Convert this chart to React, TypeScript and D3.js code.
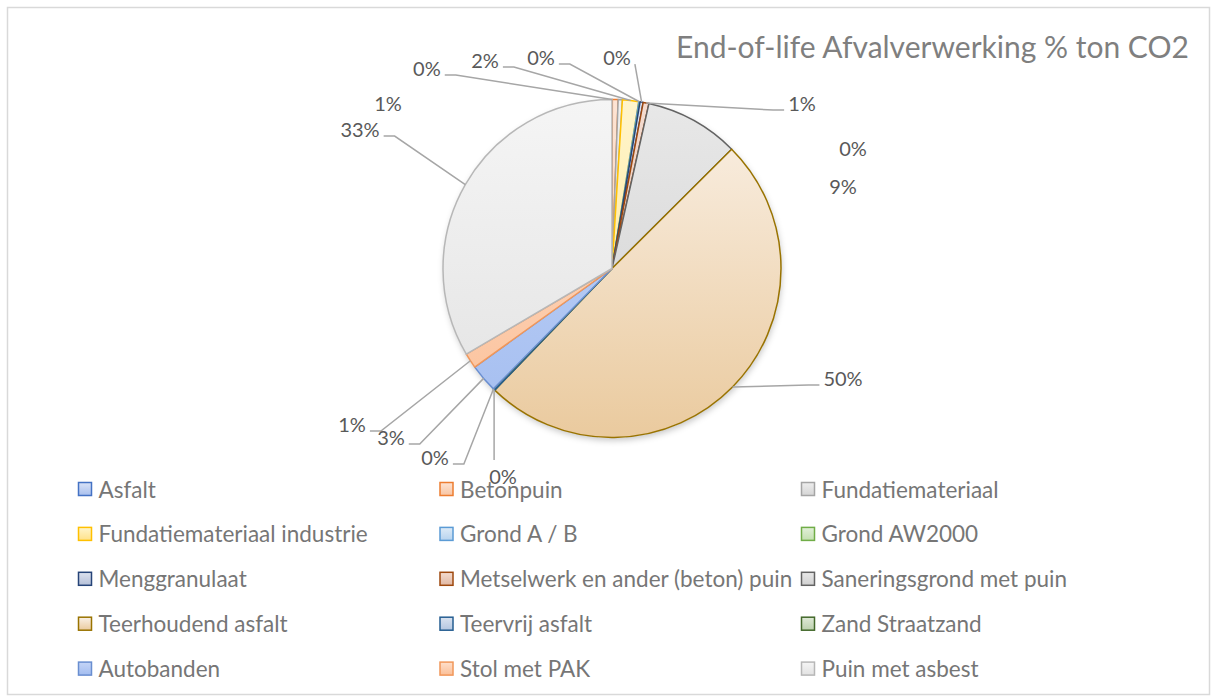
import React, { useEffect, useRef } from "react";
import * as d3 from "d3";

// ---------- data ----------
const title = "End-of-life Afvalverwerking % ton CO2";
const categories = [
  "Asfalt",
  "Betonpuin",
  "Fundatiemateriaal",
  "Fundatiemateriaal industrie",
  "Grond A / B",
  "Grond AW2000",
  "Menggranulaat",
  "Metselwerk en ander (beton) puin",
  "Saneringsgrond met puin",
  "Teerhoudend asfalt",
  "Teervrij asfalt",
  "Zand Straatzand",
  "Autobanden",
  "Stol met PAK",
  "Puin met asbest",
];
// share of ton CO2 (%)
const shares = [0.03, 0.55, 0.4, 1.55, 0.1, 0.02, 0.3, 0.55, 9.0, 49.6, 0.15, 0.02, 2.7, 1.45, 33.4];

// ---------- styles ----------
const strokeColors = [
  "#4472c4", "#ed7d31", "#a5a5a5", "#ffc000", "#5b9bd5", "#70ad47", "#264478", "#9e480e",
  "#636363", "#997300", "#255e91", "#43682b", "#698ed0", "#f1975a", "#b7b7b7",
];
const fillTop = [
  "#dae3f7", "#fde4d4", "#eeeeee", "#fff5cc", "#deebf7", "#e2f0d9", "#dde2ee", "#f4dcd0",
  "#e8e8e8", "#faf1e7", "#dae3f0", "#dfe9d7", "#c5d5f7", "#fee0cc", "#f5f5f5",
];
const fillBottom = [
  "#a9c0ee", "#f8c4a2", "#d5d5d5", "#ffe28a", "#b7d3ee", "#c3e0b0", "#b5c0d8", "#e0b7a2",
  "#d0d0d0", "#eaca9e", "#b4c6e0", "#bdd1ae", "#a3bdf0", "#fbbf97", "#e2e2e2",
];
// data-label layout: [dx, dy] relative to pie centre in radius units, plus leader flag; null = hidden
const labelLayout: ([number, number, boolean] | null)[] = [
  [-1.095, -1.186, true],
  [-1.325, -0.979, false],
  null,
  [-0.751, -1.234, true],
  [-0.42, -1.251, true],
  [1.426, -0.713, false],
  [0.03, -1.251, true],
  [1.124, -0.979, true],
  [1.367, -0.488, false],
  [1.367, 0.648, true],
  [-0.645, 1.228, true],
  [-1.047, 1.115, true],
  [-1.308, 0.997, true],
  [-1.538, 0.92, true],
  [-1.491, -0.825, true],
];

const W = 1212;
const H = 697;
const FONT = "Lato, 'Noto Sans', sans-serif";

export default function App() {
  const ref = useRef<SVGSVGElement | null>(null);

  useEffect(() => {
    const svg = d3.select(ref.current);
    svg.selectAll("*").remove();

    const cx = 612;
    const cy = 268.5;
    const r = 169;

    const defs = svg.append("defs");
    categories.forEach((_, i) => {
      const g = defs
        .append("linearGradient")
        .attr("id", `pg${i}`)
        .attr("gradientUnits", "userSpaceOnUse")
        .attr("x1", 0)
        .attr("x2", 0)
        .attr("y1", -r)
        .attr("y2", r);
      g.append("stop").attr("offset", "0%").attr("stop-color", fillTop[i]);
      g.append("stop").attr("offset", "100%").attr("stop-color", fillBottom[i]);
      const lg = defs
        .append("linearGradient")
        .attr("id", `lg${i}`)
        .attr("x1", 0)
        .attr("x2", 0)
        .attr("y1", 0)
        .attr("y2", 1);
      lg.append("stop").attr("offset", "0%").attr("stop-color", fillTop[i]);
      lg.append("stop").attr("offset", "100%").attr("stop-color", fillBottom[i]);
    });
    const f = defs
      .append("filter")
      .attr("id", "shadow")
      .attr("x", "-20%")
      .attr("y", "-20%")
      .attr("width", "140%")
      .attr("height", "140%");
    f.append("feDropShadow")
      .attr("dx", 1)
      .attr("dy", 3)
      .attr("stdDeviation", 3)
      .attr("flood-color", "#000")
      .attr("flood-opacity", 0.22);

    // background + border
    svg
      .append("rect")
      .attr("x", 7.5)
      .attr("y", 7.5)
      .attr("width", W - 10)
      .attr("height", H - 10)
      .attr("fill", "#fff")
      .attr("stroke", "#d9d9d9")
      .attr("stroke-width", 1.5);

    // title
    svg
      .append("text")
      .attr("x", 676)
      .attr("y", 58)
      .attr("font-family", FONT)
      .attr("font-size", 30)
      .attr("fill", "#7f7f7f")
      .text(title);

    const total = d3.sum(shares);
    const pie = d3
      .pie<number>()
      .sort(null)
      .value((d) => d)
      .startAngle(0)
      .endAngle(2 * Math.PI);
    const arcs = pie(shares);
    const arc = d3.arc<d3.PieArcDatum<number>>().innerRadius(0).outerRadius(r);

    const pg = svg.append("g").attr("transform", `translate(${cx},${cy})`);
    pg.append("circle").attr("r", r).attr("fill", "#fff").attr("filter", "url(#shadow)");
    pg.selectAll("path.slice")
      .data(arcs)
      .join("path")
      .attr("class", "slice")
      .attr("d", (d) => arc(d) as string)
      .attr("fill", (_, i) => `url(#pg${i})`)
      .attr("stroke", (_, i) => strokeColors[i])
      .attr("stroke-width", 1.5)
      .attr("stroke-linejoin", "round");

    // data labels
    const lblSize = 20;
    const leaders = svg.append("g");
    const lg = svg.append("g");
    arcs.forEach((a, i) => {
      const lay = labelLayout[i];
      if (!lay) return;
      const lx = cx + lay[0] * r;
      const ly = cy + lay[1] * r;
      const txt = `${Math.round((a.value / total) * 100)}%`;
      const t = lg
        .append("text")
        .attr("x", lx)
        .attr("y", ly)
        .attr("text-anchor", "middle")
        .attr("dominant-baseline", "central")
        .attr("font-family", FONT)
        .attr("font-size", lblSize)
        .attr("fill", "#595959")
        .text(txt);
      if (!lay[2]) return;
      const w = (t.node() as SVGTextElement).getComputedTextLength();
      const mid = (a.startAngle + a.endAngle) / 2;
      const px = cx + r * Math.sin(mid);
      const py = cy - r * Math.cos(mid);
      let pts: [number, number][];
      if (px >= lx - w / 2 && px <= lx + w / 2 && ly > py) {
        pts = [
          [px, py],
          [px, ly - lblSize * 0.8],
        ];
      } else {
        const side = px > lx ? 1 : -1;
        const ax = lx + side * (w / 2 + 4);
        const ay = ly + 7;
        if (Math.abs(px - ax) < 25) {
          pts = [
            [px, py],
            [ax, ay],
          ];
        } else {
          pts = [
            [px, py],
            [ax + side * 11, ay],
            [ax, ay],
          ];
        }
      }
      leaders
        .append("path")
        .attr("d", d3.line()(pts) as string)
        .attr("fill", "none")
        .attr("stroke", "#a6a6a6")
        .attr("stroke-width", 1.5);
    });

    // legend
    const colX = d3.scaleLinear().domain([0, 1]).range([78.5, 440]);
    const rowY = d3.scaleLinear().domain([0, 1]).range([489, 533.9]);
    const leg = svg.append("g");
    categories.forEach((c, i) => {
      const col = i % 3;
      const row = Math.floor(i / 3);
      const x = colX(col);
      const y = rowY(row);
      leg
        .append("rect")
        .attr("x", x)
        .attr("y", y - 6.5)
        .attr("width", 13)
        .attr("height", 13)
        .attr("fill", `url(#lg${i})`)
        .attr("stroke", strokeColors[i])
        .attr("stroke-width", 1.5);
      leg
        .append("text")
        .attr("x", x + 20)
        .attr("y", y)
        .attr("dominant-baseline", "central")
        .attr("font-family", FONT)
        .attr("font-size", 22.5)
        .attr("fill", "#767676")
        .text(c);
    });
  }, []);

  return (
    <svg
      ref={ref}
      width={W}
      height={H}
      style={{ position: "absolute", left: 0, top: 0, display: "block" }}
    />
  );
}
